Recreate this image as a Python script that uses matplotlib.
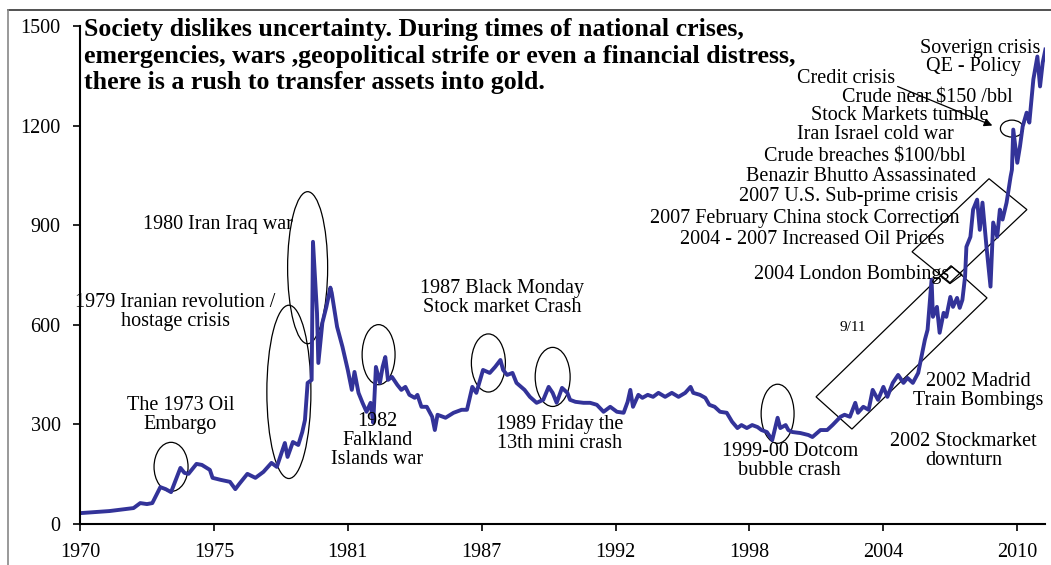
import matplotlib
matplotlib.use("Agg")
import matplotlib.pyplot as plt
from matplotlib.patches import Ellipse, Polygon
from matplotlib.lines import Line2D

plt.rcParams['font.family'] = ['Liberation Serif', 'DejaVu Serif']

# gold price, x = position along the category axis (1 unit = one labelled tick)
pos = [0.01, 0.22, 0.40, 0.45, 0.50, 0.54, 0.60, 0.64, 0.68, 0.75, 0.78, 0.81, 0.87, 0.91,
       0.97, 0.99, 1.05, 1.12, 1.16, 1.19, 1.25, 1.31, 1.37, 1.43, 1.47, 1.53, 1.55, 1.59,
       1.63, 1.66, 1.68, 1.70, 1.73, 1.74, 1.76, 1.77, 1.78, 1.81, 1.84, 1.87, 1.88, 1.92,
       1.96, 2.00, 2.03, 2.05, 2.08, 2.11, 2.14, 2.17, 2.19, 2.21, 2.24, 2.26, 2.28, 2.30,
       2.33, 2.37, 2.40, 2.43, 2.46, 2.50, 2.52, 2.55, 2.59, 2.63, 2.65, 2.67, 2.73, 2.79,
       2.85, 2.89, 2.93, 2.96, 3.01, 3.06, 3.10, 3.14, 3.16, 3.19, 3.23, 3.26, 3.32, 3.36,
       3.41, 3.46, 3.50, 3.53, 3.56, 3.60, 3.64, 3.66, 3.70, 3.76,
       3.81, 3.86, 3.91, 3.96, 4.01, 4.06, 4.09, 4.11, 4.13, 4.17, 4.20, 4.24, 4.28, 4.32,
       4.37, 4.42, 4.47, 4.52, 4.56, 4.58, 4.63, 4.67, 4.70, 4.74, 4.78, 4.83, 4.87, 4.91,
       4.94, 4.98, 5.02, 5.06, 5.09, 5.13, 5.17, 5.21, 5.23, 5.27, 5.29, 5.32, 5.38, 5.44,
       5.47, 5.53, 5.58, 5.62, 5.68, 5.71, 5.75, 5.79, 5.81, 5.85, 5.89, 5.92, 5.96, 6.00,
       6.03, 6.07, 6.11, 6.15, 6.18, 6.22, 6.26, 6.29, 6.31, 6.33, 6.36, 6.37, 6.40, 6.42,
       6.45, 6.47, 6.50, 6.52, 6.55, 6.57, 6.59, 6.61, 6.62, 6.65, 6.67, 6.70, 6.72, 6.74,
       6.77, 6.80, 6.82, 6.85, 6.87, 6.89, 6.92, 6.95, 6.96, 6.97, 7.00, 7.02, 7.04, 7.07,
       7.09, 7.12, 7.15, 7.17, 7.19, 7.21]
price = [33, 39, 48, 63, 60, 63, 111, 105, 96, 169, 154, 151, 181, 178,
         163, 139, 133, 127, 105, 121, 151, 139, 157, 184, 172, 244, 202, 247,
         238, 277, 313, 425, 434, 850, 705, 636, 485, 606, 654, 712, 696, 594,
         534, 464, 404, 458, 395, 365, 338, 365, 305, 473, 425, 473, 503, 434,
         443, 419, 404, 413, 389, 380, 389, 353, 353, 323, 283, 329, 320, 335,
         344, 344, 413, 395, 464, 455, 473, 494, 464, 449, 455, 425, 404, 383,
         365, 374, 413, 395, 365, 410, 395, 374, 368, 365,
         365, 359, 338, 353, 338, 335, 368, 404, 353, 389, 380, 389, 383, 395,
         383, 395, 383, 395, 413, 395, 389, 380, 359, 353, 338, 335, 308, 289,
         298, 289, 298, 292, 283, 277, 253, 320, 289, 298, 283, 277, 274, 268,
         262, 283, 283, 298, 323, 329, 323, 365, 335, 353, 344, 404, 374, 413,
         383, 425, 449, 425, 440, 425, 455, 516, 555, 585, 736, 624, 654, 576,
         636, 624, 684, 654, 681, 651, 675, 745, 835, 865, 947, 977, 886, 968,
         835, 715, 908, 865, 947, 917, 968, 1046, 1067, 1188, 1088, 1137, 1197, 1239,
         1209, 1339, 1408, 1318, 1390, 1429]

tick_labels = ['1970', '1975', '1981', '1987', '1992', '1998', '2004', '2010']
y_ticks = [0, 300, 600, 900, 1200, 1500]

title = ("Society dislikes uncertainty. During times of national crises,\n"
         "emergencies, wars ,geopolitical strife or even a financial distress,\n"
         "there is a rush to transfer assets into gold.")

# (text, x, y) label centres
notes = [
    ("1980 Iran Iraq war", 1.03, 901),
    ("1979 Iranian revolution /\nhostage crisis", 0.71, 639),
    ("The 1973 Oil\nEmbargo", 0.75, 329),
    ("1982\nFalkland\nIslands war", 2.22, 253),
    ("1987 Black Monday\nStock market Crash", 3.15, 681),
    ("1989 Friday the\n13th mini crash", 3.58, 271),
    ("1999-00 Dotcom\nbubble crash", 5.30, 190),
    ("2002 Stockmarket\ndownturn", 6.60, 220),
    ("2002 Madrid\nTrain Bombings", 6.71, 401),
    ("2004 London Bombings", 5.76, 751),
    ("2004 - 2007 Increased Oil Prices", 5.47, 856),
    ("2007 February China stock Correction", 5.41, 920),
    ("2007 U.S. Sub-prime crisis", 5.74, 986),
    ("Benazir Bhutto Assassinated", 5.83, 1046),
    ("Crude breaches $100/bbl", 5.86, 1104),
    ("Iran Israel cold war", 5.94, 1173),
    ("Stock Markets tumble", 6.12, 1230),
    ("Crude near $150 /bbl", 6.33, 1284),
    ("Credit crisis", 5.72, 1342),
    ("QE - Policy", 6.67, 1378),
    ("Soverign crisis", 6.72, 1432),
]

# (x, y, width, height)
circles = [
    (0.68, 172, 0.254, 148),
    (1.56, 398, 0.329, 522),
    (1.70, 772, 0.299, 458),
    (2.23, 510, 0.246, 181),
    (3.05, 485, 0.254, 175),
    (3.53, 443, 0.261, 178),
    (5.21, 332, 0.246, 178),
    (6.96, 1191, 0.172, 51),
]

boxes = [
    [(5.497, 383), (5.765, 286), (6.774, 681), (6.505, 778)],
    [(6.214, 820), (6.789, 1040), (7.072, 947), (6.497, 727)],
    [(6.423, 748), (6.512, 775), (6.587, 751), (6.497, 724)],
]

fig = plt.figure(figsize=(10.51, 5.65), dpi=100)
ax = fig.add_axes([80 / 1051, 41 / 565, 965 / 1051, 498 / 565])

ax.plot(pos, price, color='#333399', lw=2.8, solid_joinstyle='round')

ax.set_xlim(0, 7.207)
ax.set_ylim(0, 1500)
ax.set_xticks(range(len(tick_labels)))
ax.set_xticklabels(tick_labels)
ax.set_yticks(y_ticks)
ax.tick_params(axis='both', labelsize=14.5, direction='out', length=5, width=1.2)
ax.tick_params(axis='y', pad=9)
ax.tick_params(axis='x', pad=9)
for s in ['top', 'right']:
    ax.spines[s].set_visible(False)
for s in ['left', 'bottom']:
    ax.spines[s].set_linewidth(1.5)

for txt, x, y in notes:
    ax.text(x, y, txt, ha='center', va='center', fontsize=14.5, linespacing=1.0)
ax.text(5.77, 591, "9/11", ha='center', va='center', fontsize=11)

for x, y, w, h in circles:
    ax.add_patch(Ellipse((x, y), w, h, fill=False, ec='black', lw=0.9))
for b in boxes:
    ax.add_patch(Polygon(b, closed=True, fill=False, ec='black', lw=0.9))

ax.annotate('', xy=(6.833, 1197), xytext=(6.087, 1321),
            arrowprops=dict(arrowstyle='-|>', color='black', lw=0.9, mutation_scale=12))

fig.text(84 / 1051, 1 - 18 / 565, title, ha='left', va='top', fontsize=18.6,
         fontweight='bold', linespacing=1.2)

# outer frame
fig.add_artist(Line2D([8 / 1051, 1], [1 - 10 / 565, 1 - 10 / 565], color='#333333', lw=1.2))
fig.add_artist(Line2D([8 / 1051, 8 / 1051], [0, 1 - 10 / 565], color='#888888', lw=1.2))

fig.savefig('out.png', dpi=100)
